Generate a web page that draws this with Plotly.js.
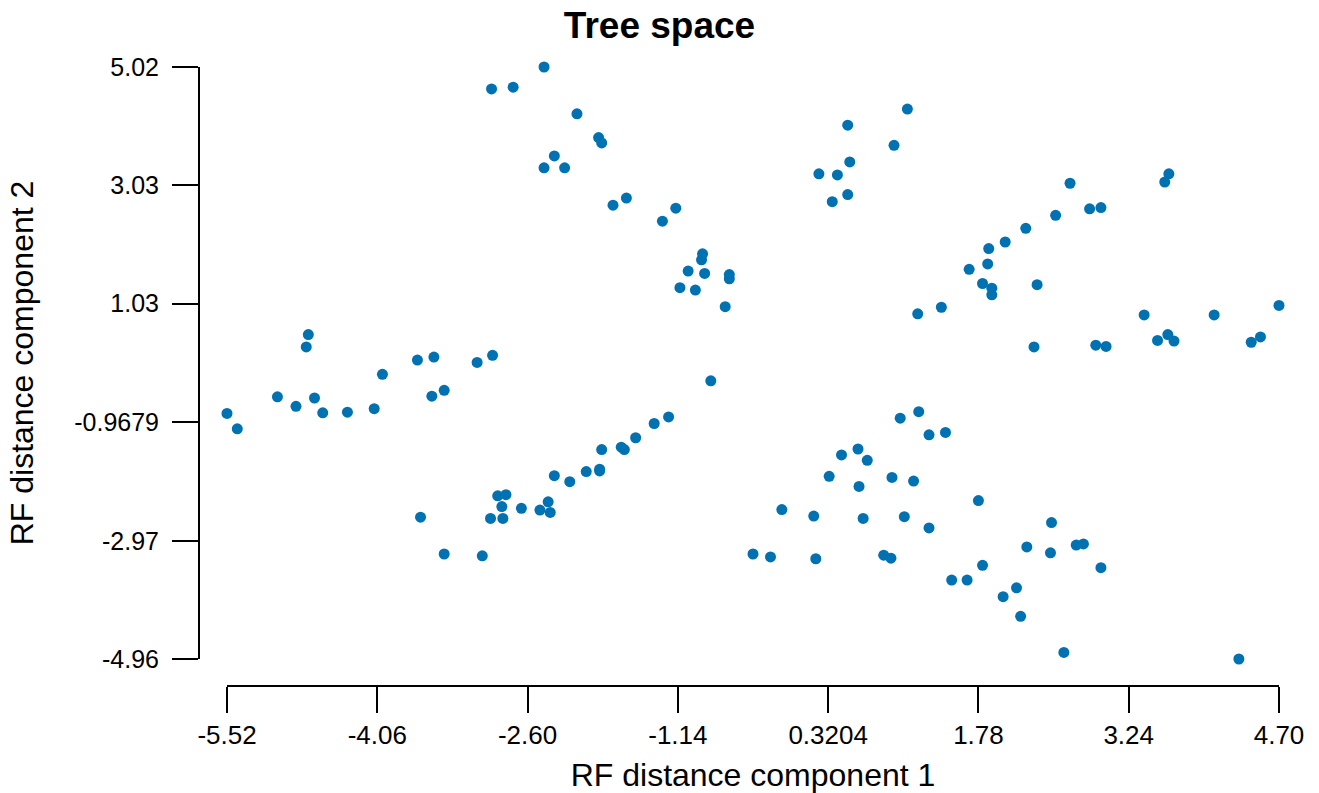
<!DOCTYPE html>
<html>
<head>
<meta charset="utf-8">
<script src="https://cdn.plot.ly/plotly-3.0.1.min.js"></script>
<style>html,body{margin:0;padding:0;background:#fff;}#chart{width:1319px;height:793px;}</style>
</head>
<body>
<div id="chart"></div>
<script>
// RF distance component 1 (x) and component 2 (y) for each tree
const comp1 = [
  -2.44, -2.95, -2.74, -2.12, -1.91, -1.88, -2.34, -2.44, -2.24, -1.77,
  -1.64, -1.29, -1.16, -0.90, -0.91, -1.04, -0.88, -0.64, -0.64, -1.12,
  -0.97, -0.68, -0.82,
  0.51, 1.09, 0.96, 0.53, 0.23, 0.41, 0.51, 0.36,
  2.67, 3.63, 3.59, 2.53, 2.86, 2.97, 2.24, 2.04, 1.88, 1.87,
  1.69, 1.82, 1.91, 1.91, 2.35, 1.42, 1.19, 3.39, 4.07, 4.70,
  2.32, 2.92, 3.02, 3.52, 3.62, 3.68, 4.43, 4.52,
  -4.73, -4.75, -3.67, -3.51, -3.09, -2.94, -4.01, -3.53, -3.41, -5.03,
  -4.85, -4.67, -4.59, -4.35, -4.09, -5.52, -5.42,
  -1.23, -1.37, -1.55, -1.69, -1.66, -1.88, -2.03, -1.90, -1.90, -2.19,
  -2.34, -2.89, -2.81, -2.85, -2.66, -2.40, -2.48, -2.38, -2.96, -2.84,
  -3.64, -3.41, -3.04,
  1.02, 1.20, 1.30, 1.46, 0.45, 0.61, 0.70, 0.33, 0.62, 0.94,
  1.15, -0.13, 0.18, 0.66, 1.06, 1.30, -0.41, -0.24, 0.20, 0.86,
  0.93, 1.78, 2.49, 2.25, 2.48, 2.73, 2.80, 2.97, 1.82, 1.52,
  1.67, 2.15, 2.02, 2.19, 2.61, 4.31
];
const comp2 = [
  5.02, 4.65, 4.68, 4.23, 3.83, 3.74, 3.52, 3.32, 3.32, 2.69,
  2.81, 2.42, 2.64, 1.87, 1.77, 1.58, 1.54, 1.52, 1.45, 1.30,
  1.26, 0.98, -0.27,
  4.04, 4.31, 3.70, 3.42, 3.22, 3.20, 2.87, 2.75,
  3.06, 3.22, 3.08, 2.52, 2.63, 2.65, 2.30, 2.07, 1.96, 1.70,
  1.61, 1.37, 1.29, 1.18, 1.35, 0.97, 0.86, 0.84, 0.84, 1.00,
  0.30, 0.33, 0.31, 0.41, 0.51, 0.40, 0.38, 0.47,
  0.51, 0.30, 0.08, 0.13, 0.04, 0.16, -0.16, -0.53, -0.43, -0.54,
  -0.70, -0.56, -0.81, -0.80, -0.74, -0.82, -1.08,
  -0.88, -0.99, -1.23, -1.39, -1.43, -1.43, -1.80, -1.76, -1.79, -1.97,
  -1.87, -2.21, -2.19, -2.39, -2.42, -2.31, -2.45, -2.49, -2.59, -2.59,
  -2.57, -3.19, -3.22,
  -0.90, -0.79, -1.18, -1.14, -1.52, -1.42, -1.61, -1.88, -2.05, -1.90,
  -1.96, -2.44, -2.55, -2.59, -2.56, -2.75, -3.19, -3.24, -3.27, -3.21,
  -3.26, -2.29, -2.66, -3.07, -3.17, -3.04, -3.02, -3.42, -3.38, -3.63,
  -3.63, -3.76, -3.91, -4.24, -4.85, -4.96
];
const xTickVals = [-5.52, -4.06, -2.60, -1.14, 0.3204, 1.78, 3.24, 4.70];
const xTickText = ["-5.52", "-4.06", "-2.60", "-1.14", "0.3204", "1.78", "3.24", "4.70"];
const yTickVals = [5.02, 3.03, 1.03, -0.9679, -2.97, -4.96];
const yTickText = ["5.02", "3.03", "1.03", "-0.9679", "-2.97", "-4.96"];

const FONT = "Liberation Sans, Arial, Helvetica, sans-serif";
const W = 1319, H = 793;
const m = {l: 199, r: 40, t: 67, b: 107};
const pw = W - m.l - m.r, ph = H - m.t - m.b;

const trace = {
  type: "scatter", mode: "markers",
  x: comp1, y: comp2,
  marker: {color: "#0072B2", size: 11, line: {width: 0}},
  cliponaxis: false,
  hoverinfo: "x+y"
};

const layout = {
  width: W, height: H,
  margin: m,
  paper_bgcolor: "#fff", plot_bgcolor: "#fff",
  showlegend: false,
  font: {family: FONT, color: "#000"},
  title: {
    text: "<b>Tree space</b>",
    font: {family: FONT, size: 37, color: "#000"},
    xref: "container", x: 0.5, xanchor: "center",
    yref: "container", y: 1 - 25 / H, yanchor: "middle"
  },
  xaxis: {
    range: [xTickVals[0], xTickVals[xTickVals.length - 1]],
    domain: [28 / pw, 1],
    anchor: "free", position: 0,
    showgrid: false, zeroline: false,
    showline: true, linecolor: "#000", linewidth: 2,
    ticks: "outside", ticklen: 26, tickwidth: 2, tickcolor: "#000",
    tickmode: "array", tickvals: xTickVals, ticktext: xTickText,
    tickfont: {family: FONT, size: 26, color: "#000"},
    ticklabelstandoff: 0,
    title: {text: "RF distance component 1", font: {family: FONT, size: 32, color: "#000"}, standoff: 15},
    automargin: false
  },
  yaxis: {
    range: [yTickVals[yTickVals.length - 1], yTickVals[0]],
    domain: [27 / ph, 1],
    anchor: "free", position: 0,
    showgrid: false, zeroline: false,
    showline: true, linecolor: "#000", linewidth: 2,
    ticks: "outside", ticklen: 26, tickwidth: 2, tickcolor: "#000",
    tickmode: "array", tickvals: yTickVals, ticktext: yTickText,
    tickfont: {family: FONT, size: 25, color: "#000"},
    ticklabelstandoff: 8,
    title: {text: "RF distance component 2", font: {family: FONT, size: 32, color: "#000"}, standoff: 30},
    automargin: false
  }
};

Plotly.newPlot("chart", [trace], layout, {displayModeBar: false, staticPlot: true});
</script>
</body>
</html>
